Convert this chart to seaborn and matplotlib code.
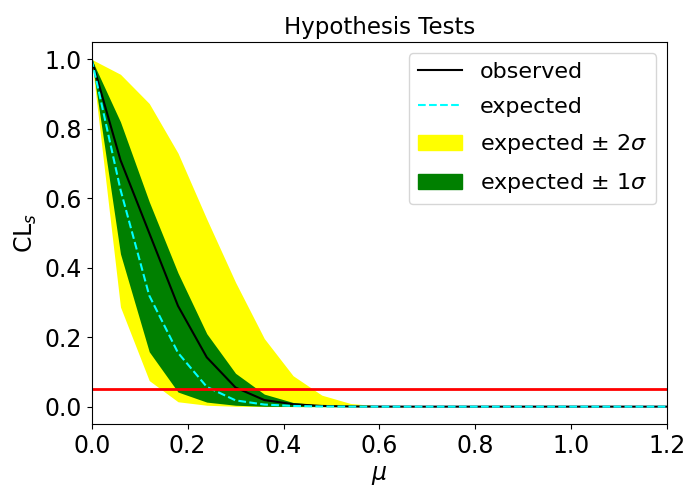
import matplotlib
matplotlib.use("Agg")
import matplotlib.pyplot as plt
import seaborn as sns
import pandas as pd
from matplotlib.patches import Patch
from matplotlib.lines import Line2D

# values
mu = [0.0, 0.06, 0.12, 0.18, 0.24, 0.30, 0.36, 0.42, 0.48, 0.54, 0.60,
      0.66, 0.72, 0.78, 0.84, 0.90, 0.96, 1.02, 1.08, 1.14, 1.20]
cls_obs = [1.0, 0.71, 0.50, 0.29, 0.142, 0.055, 0.019, 0.007, 0.002, 0.0006, 0.0002,
           0.0, 0.0, 0.0, 0.0, 0.0, 0.0, 0.0, 0.0, 0.0, 0.0]
cls_exp = [1.0, 0.625, 0.32, 0.155, 0.057, 0.018, 0.006, 0.002, 0.0005, 0.0001, 0.0,
           0.0, 0.0, 0.0, 0.0, 0.0, 0.0, 0.0, 0.0, 0.0, 0.0]
band1_up = [1.0, 0.82, 0.59, 0.385, 0.21, 0.096, 0.036, 0.012, 0.004, 0.001, 0.0003,
            0.0, 0.0, 0.0, 0.0, 0.0, 0.0, 0.0, 0.0, 0.0, 0.0]
band1_dn = [1.0, 0.44, 0.158, 0.042, 0.013, 0.004, 0.001, 0.0003, 0.0, 0.0, 0.0,
            0.0, 0.0, 0.0, 0.0, 0.0, 0.0, 0.0, 0.0, 0.0, 0.0]
band2_up = [1.0, 0.957, 0.873, 0.73, 0.54, 0.358, 0.196, 0.089, 0.033, 0.009, 0.002,
            0.0005, 0.0001, 0.0, 0.0, 0.0, 0.0, 0.0, 0.0, 0.0, 0.0]
band2_dn = [1.0, 0.287, 0.075, 0.014, 0.004, 0.001, 0.0002, 0.0, 0.0, 0.0, 0.0,
            0.0, 0.0, 0.0, 0.0, 0.0, 0.0, 0.0, 0.0, 0.0, 0.0]
test_size = 0.05

df = pd.DataFrame({"mu": mu, "obs": cls_obs, "exp": cls_exp,
                   "up1": band1_up, "dn1": band1_dn,
                   "up2": band2_up, "dn2": band2_dn})

plt.rcParams["font.size"] = 17

fig, ax = plt.subplots(figsize=(7, 5), dpi=100)
fig.subplots_adjust(left=0.131, right=0.953, top=0.916, bottom=0.152)

ax.fill_between(df["mu"], df["dn2"], df["up2"], color="yellow", lw=0)
ax.fill_between(df["mu"], df["dn1"], df["up1"], color="green", lw=0)
sns.lineplot(data=df, x="mu", y="obs", color="black", lw=1.5, ax=ax)
sns.lineplot(data=df, x="mu", y="exp", color="cyan", lw=1.5, ax=ax)
ax.lines[-1].set_linestyle("--")
ax.axhline(test_size, color="red", lw=2)

ax.set_xlim(0, 1.2)
ax.set_ylim(-0.05, 1.05)
ax.set_title("Hypothesis Tests", fontsize=16.5)
ax.set_xlabel(r"$\mu$")
ax.set_ylabel(r"CL$_s$")

handles = [Line2D([], [], color="black", lw=1.5),
           Line2D([], [], color="cyan", lw=1.5, ls="--"),
           Patch(color="yellow"),
           Patch(color="green")]
labels = ["observed", "expected", r"expected $\pm$ $2\sigma$", r"expected $\pm$ $1\sigma$"]
ax.legend(handles, labels, loc="upper right", fontsize=16, labelspacing=0.68)

fig.savefig("out.png", dpi=100)
